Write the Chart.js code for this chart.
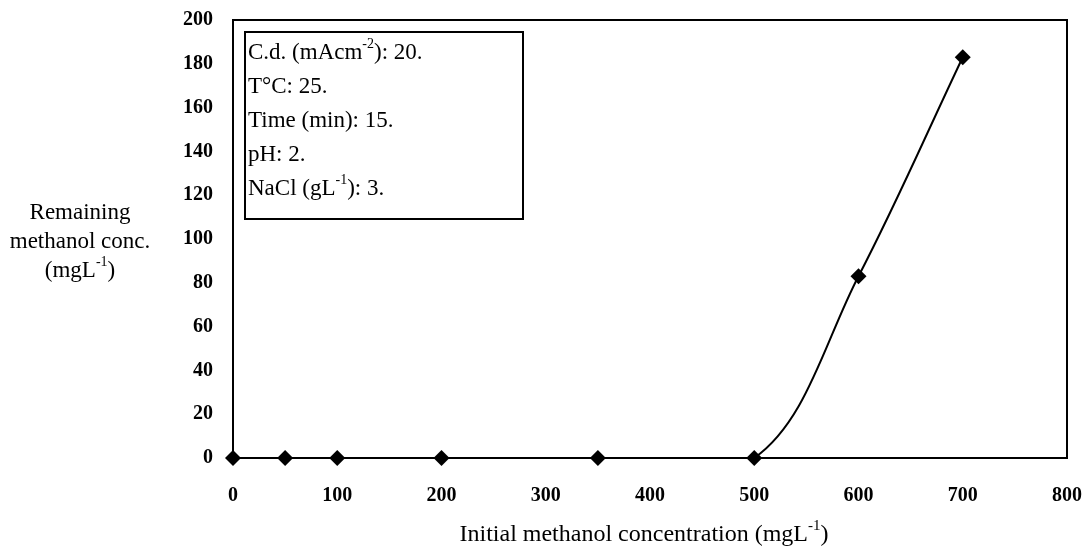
<!DOCTYPE html>
<html>
<head>
<meta charset="utf-8">
<script src="https://cdn.jsdelivr.net/npm/chart.js@4/dist/chart.umd.min.js"></script>
<style>
  html, body { margin: 0; padding: 0; background: #fff; }
  #wrap { width: 1086px; height: 548px; }
</style>
</head>
<body>
<div id="wrap"><canvas id="myChart"></canvas></div>
<script>
// dados
const initialConc = [0, 50, 100, 200, 350, 500, 600, 700];
const remainingConc = [0, 0, 0, 0, 0, 0, 83, 183];
const xMin = 0, xMax = 800, xStep = 100;
const yMin = 0, yMax = 200, yStep = 20;

// textos (partes com sup = expoente)
const yTitleLines = [
  [{ t: 'Remaining' }],
  [{ t: 'methanol conc.' }],
  [{ t: '(mgL' }, { t: '-1', sup: true }, { t: ')' }]
];
const xTitle = [{ t: 'Initial methanol concentration (mgL' }, { t: '-1', sup: true }, { t: ')' }];
const noteLines = [
  [{ t: 'C.d. (mAcm' }, { t: '-2', sup: true }, { t: '): 20.' }],
  [{ t: 'T°C: 25.' }],
  [{ t: 'Time (min): 15.' }],
  [{ t: 'pH: 2.' }],
  [{ t: 'NaCl (gL' }, { t: '-1', sup: true }, { t: '): 3.' }]
];

const serif = '"Liberation Serif", "Times New Roman", serif';

function drawRich(ctx, parts, x, y, size, align) {
  const supSize = Math.round(size * 0.62);
  let total = 0;
  parts.forEach(p => {
    ctx.font = (p.sup ? supSize : size) + 'px ' + serif;
    total += ctx.measureText(p.t).width;
  });
  let cx = align === 'center' ? x - total / 2 : x;
  ctx.textAlign = 'left';
  ctx.textBaseline = 'middle';
  parts.forEach(p => {
    ctx.font = (p.sup ? supSize : size) + 'px ' + serif;
    ctx.fillText(p.t, cx, p.sup ? y - size * 0.38 : y);
    cx += ctx.measureText(p.t).width;
  });
}

const decorPlugin = {
  id: 'decor',
  beforeDatasetsDraw(chart) {
    const { ctx, chartArea: a } = chart;
    ctx.save();
    ctx.strokeStyle = '#000';
    ctx.lineWidth = 2;
    ctx.strokeRect(a.left, a.top, a.right - a.left, a.bottom - a.top);
    ctx.restore();
  },
  afterDraw(chart) {
    const { ctx, chartArea: a } = chart;
    ctx.save();
    ctx.fillStyle = '#000';
    ctx.strokeStyle = '#000';

    // caixa de condições
    const bx = a.left + 12, by = a.top + 12, bw = 278, bh = 187;
    ctx.lineWidth = 2;
    ctx.strokeRect(bx, by, bw, bh);
    noteLines.forEach((line, i) => drawRich(ctx, line, bx + 3, by + 21 + i * 34, 23, 'left'));

    // título do eixo y (horizontal, à esquerda)
    yTitleLines.forEach((line, i) => drawRich(ctx, line, 80, 213 + i * 29, 23, 'center'));

    // título do eixo x
    drawRich(ctx, xTitle, (a.left + a.right) / 2 - 6, 535, 24, 'center');
    ctx.restore();
  }
};

const tickFont = { family: serif, size: 20, weight: 'bold' };

function noPad(scale) {
  scale.paddingLeft = 0;
  scale.paddingRight = 0;
  scale.paddingTop = 0;
  scale.paddingBottom = 0;
}

new Chart(document.getElementById('myChart'), {
  type: 'line',
  data: {
    datasets: [{
      data: initialConc.map((x, i) => ({ x: x, y: remainingConc[i] })),
      borderColor: '#000',
      backgroundColor: '#000',
      borderWidth: 2,
      pointStyle: 'rectRot',
      pointRadius: 8,
      pointBorderWidth: 0,
      tension: 0.35,
      fill: false,
      clip: false
    }]
  },
  options: {
    responsive: true,
    maintainAspectRatio: false,
    animation: false,
    layout: { padding: { top: 20, right: 19, left: 0, bottom: 0 } },
    plugins: { legend: { display: false }, tooltip: { enabled: false }, title: { display: false } },
    scales: {
      x: {
        type: 'linear',
        min: xMin, max: xMax,
        ticks: { stepSize: xStep, font: tickFont, color: '#000', padding: 26, maxRotation: 0 },
        grid: { display: false, drawTicks: false },
        border: { display: false },
        afterFit(scale) { scale.height = 90; noPad(scale); }
      },
      y: {
        min: yMin, max: yMax,
        ticks: { stepSize: yStep, font: tickFont, color: '#000', padding: 20 },
        grid: { display: false, drawTicks: false },
        border: { display: false },
        afterFit(scale) { scale.width = 233; noPad(scale); }
      }
    }
  },
  plugins: [decorPlugin]
});
</script>
</body>
</html>
